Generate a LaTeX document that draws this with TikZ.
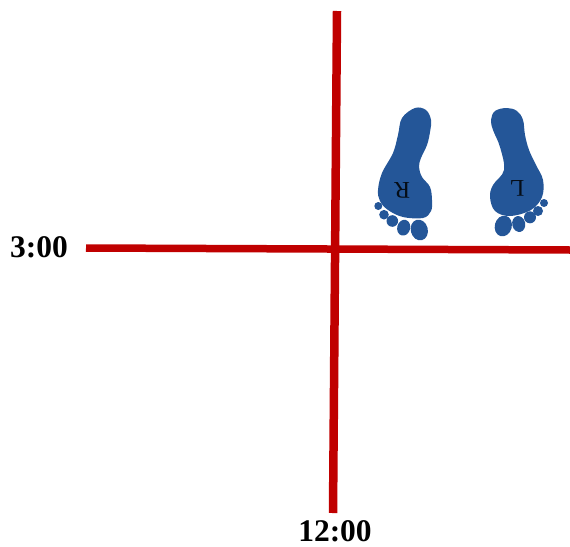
\documentclass[tikz,border=0pt]{standalone}
\usepackage{fontspec}
\setmainfont{Liberation Serif}
\definecolor{linered}{RGB}{192,0,0}
\definecolor{footblue}{RGB}{36,86,152}
\tikzset{
  axis/.style={draw=linered,line width=#1},
  foot/.style={fill=footblue,draw=none},
  clock/.style={font=\fontsize{31.5}{33}\selectfont\bfseries,inner sep=0pt},
  sole/.style={font=\fontsize{24}{26}\selectfont,rotate=180,inner sep=0pt,text=black!85!footblue}
}
\begin{document}
\begin{tikzpicture}[x=1pt,y=-1pt]
\useasboundingbox (0,0) rectangle (570,546);
\coordinate (vtop) at (337,11);
\coordinate (vbot) at (333,513);
\coordinate (hleft) at (86,248);
\coordinate (hright) at (570,250);
\draw[axis=8.5pt] (vtop) -- (vbot);
\draw[axis=7.5pt] (hleft) -- (hright);
% right foot
\fill[foot] plot[smooth cycle,tension=0.6] coordinates {(415,108) (426,110) (431,120) (430,132) (427,145) (421,158) (419,167) (422,177) (430,187) (432,200) (431,211) (423,218) (403,217) (388,210) (380,201) (378,190) (382,173) (393,153) (398,135) (402,118)};
\fill[foot] (378.3,206) circle (4);
\fill[foot] (384,214.7) circle (4.8);
\fill[foot] (392.3,221) circle (5.8);
\fill[foot,rotate around={-15:(403.7,227.7)}] (403.7,227.7) ellipse (6.5 and 8);
\fill[foot,rotate around={15:(419.3,230)}] (419.3,230) ellipse (8.5 and 10.5);
% left foot
\fill[foot] plot[smooth cycle,tension=0.6] coordinates {(506.7,108) (517,111) (523,120) (525,135) (529,150) (536,165) (543,180) (542,197) (531,210) (510,216) (495,211) (490,197) (493,185) (504,170) (500,147) (493,130) (491,120) (495,111)};
\fill[foot] (544,203) circle (4);
\fill[foot] (538,211) circle (5);
\fill[foot] (530,217.3) circle (6);
\fill[foot,rotate around={12:(518.7,224)}] (518.7,224) ellipse (6.5 and 8);
\fill[foot,rotate around={-15:(503.3,226)}] (503.3,226) ellipse (8.5 and 10.5);
\node[sole] (r) at (402,190.5) {R};
\node[sole] (l) at (517,188) {L};
\node[clock] (three) at (39,247) {3:00};
\node[clock] (twelve) at (335,531.5) {12:00};
\end{tikzpicture}
\end{document}
